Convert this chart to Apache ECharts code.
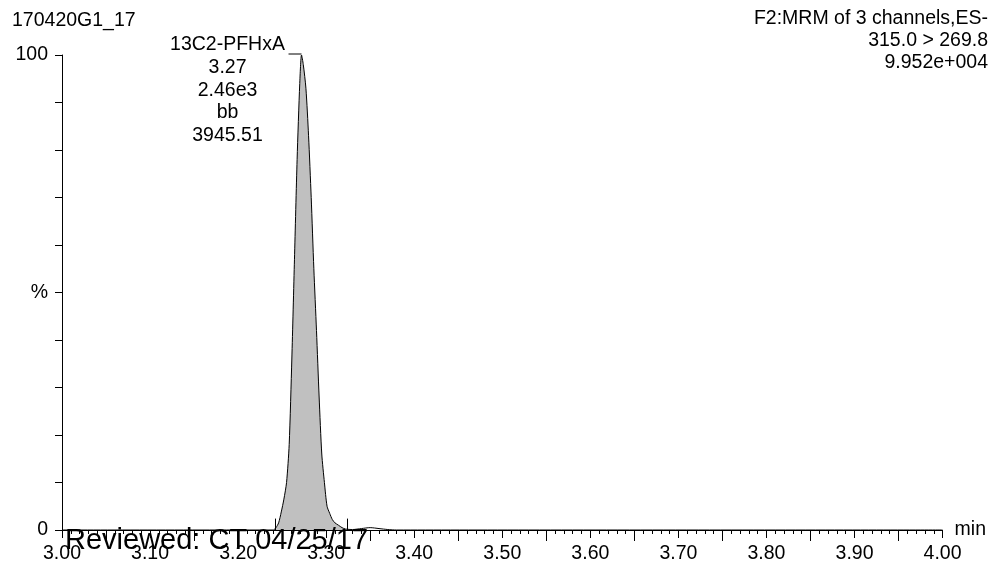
<!DOCTYPE html>
<html><head><meta charset="utf-8">
<style>html,body{margin:0;padding:0;background:#fff}#c{width:989px;height:564px}</style>
<script src="https://cdn.jsdelivr.net/npm/echarts@6/dist/echarts.min.js"></script>
</head><body><div id="c"></div>
<script>
const FONT = '"Liberation Sans", Arial, sans-serif';
const sampleName = '170420G1_17';
const channelInfo = ['F2:MRM of 3 channels,ES-', '315.0 > 269.8', '9.952e+004'];
const peakInfo = ['13C2-PFHxA', '3.27', '2.46e3', 'bb', '3945.51'];
const reviewNote = 'Reviewed: CT 04/25/17';
const yTickLabels = { 0: '0', 50: '%', 100: '100' };
const xUnit = 'min';

// chromatogram trace (retention time, min) / (relative intensity, %)
const times = [3.000, 3.240, 3.243, 3.246, 3.249, 3.252, 3.255, 3.258, 3.261, 3.264, 3.267, 3.270, 3.272,
  3.274, 3.277, 3.280, 3.283, 3.286, 3.289, 3.292, 3.295, 3.298, 3.301, 3.304, 3.307, 3.310, 3.314,
  3.318, 3.322, 3.330, 3.340, 3.350, 3.360, 3.370, 3.380, 4.000];
const intensity = [0, 0, 0.5, 1.5, 3.8, 6.5, 10, 18, 36, 57, 78, 94, 100,
  98, 93, 83, 70, 55, 42, 28, 16, 10, 5, 3.5, 2.2, 1.5, 1.0,
  0.5, 0.2, 0.1, 0.3, 0.5, 0.3, 0.1, 0, 0];
const peakTime = 3.272, peakValue = 100;
const integStart = 3.2418, integEnd = 3.3235;
const markerHeight = 2.4;

const trace = times.map((t, i) => [t, intensity[i]]);
const integrated = trace.filter(p => p[0] >= integStart - 0.003 && p[0] <= integEnd);

const chart = echarts.init(document.getElementById('c'));
const axisColor = '#000';
chart.setOption({
  animation: false,
  backgroundColor: '#fff',
  grid: { left: 62, right: 46, top: 55, bottom: 34, containLabel: false },
  xAxis: [{
    type: 'value', min: 3, max: 4, interval: 0.1,
    axisLine: { show: true, onZero: false, lineStyle: { color: axisColor, width: 1 } },
    axisTick: { show: true, length: 8, lineStyle: { color: axisColor, width: 1 } },
    minorTick: { show: true, splitNumber: 10, length: 4, lineStyle: { color: axisColor, width: 1 } },
    axisLabel: { formatter: v => v.toFixed(2), fontSize: 19.5, fontFamily: FONT, color: '#000', margin: 14 },
    splitLine: { show: false }, minorSplitLine: { show: false },
    name: xUnit, nameLocation: 'end', nameGap: 12,
    nameTextStyle: { fontSize: 19.5, fontFamily: FONT, color: '#000', verticalAlign: 'middle', padding: [6, 0, 0, 0] }
  }, {
    type: 'value', min: 3, max: 4, interval: 0.1, position: 'bottom', gridIndex: 0,
    axisLine: { show: false }, axisTick: { show: false }, axisLabel: { show: false },
    minorTick: { show: true, splitNumber: 2, length: 11, lineStyle: { color: axisColor, width: 1 } },
    splitLine: { show: false }, minorSplitLine: { show: false }
  }],
  yAxis: {
    type: 'value', min: 0, max: 100, interval: 10,
    axisLine: { show: true, lineStyle: { color: axisColor, width: 1 } },
    axisTick: { show: true, length: 7, lineStyle: { color: axisColor, width: 1 } },
    axisLabel: { formatter: v => (yTickLabels[v] !== undefined ? yTickLabels[v] : ''), fontSize: 19.5, fontFamily: FONT, color: '#000', margin: 14 },
    splitLine: { show: false }
  },
  series: [{
    type: 'line', data: integrated, symbol: 'none', clip: false, smooth: 0.25,
    lineStyle: { width: 0 }, areaStyle: { color: '#c0c0c0', opacity: 1 }, z: 2, silent: true
  }, {
    type: 'line', data: trace, symbol: 'none', clip: false, smooth: 0.25,
    lineStyle: { color: '#000', width: 1 }, z: 3, silent: true,
    markLine: {
      silent: true, symbol: 'none', label: { show: false },
      lineStyle: { color: '#000', width: 1, type: 'solid' },
      data: [
        [{ coord: [integStart, 0] }, { coord: [integStart, markerHeight] }],
        [{ coord: [integEnd, 0] }, { coord: [integEnd, markerHeight] }]
      ]
    }
  }]
});

const p = chart.convertToPixel({ gridIndex: 0 }, [peakTime, peakValue]);
const txt = (x, y, text, align, size) => ({
  type: 'text', x: x, y: y, z: 10, silent: true,
  style: { text: text, fontSize: size || 19.5, fontFamily: FONT, fill: '#000',
    align: align, verticalAlign: 'middle', textAlign: align, textVerticalAlign: 'middle' }
});
const graphics = [];
graphics.push(txt(12, 21, sampleName, 'left'));
channelInfo.forEach((s, i) => graphics.push(txt(988, 18.5 + 22 * i, s, 'right')));
peakInfo.forEach((s, i) => graphics.push(txt(p[0] - 74, p[1] - 10 + 22.6 * i, s, 'center')));
graphics.push({ type: 'line', z: 10, silent: true, shape: { x1: p[0] - 13, y1: p[1] - 1, x2: p[0], y2: p[1] - 1 }, style: { stroke: '#000', lineWidth: 1 } });
graphics.push(txt(65, 541, reviewNote, 'left', 29));
chart.setOption({ graphic: graphics });
</script>
</body></html>
